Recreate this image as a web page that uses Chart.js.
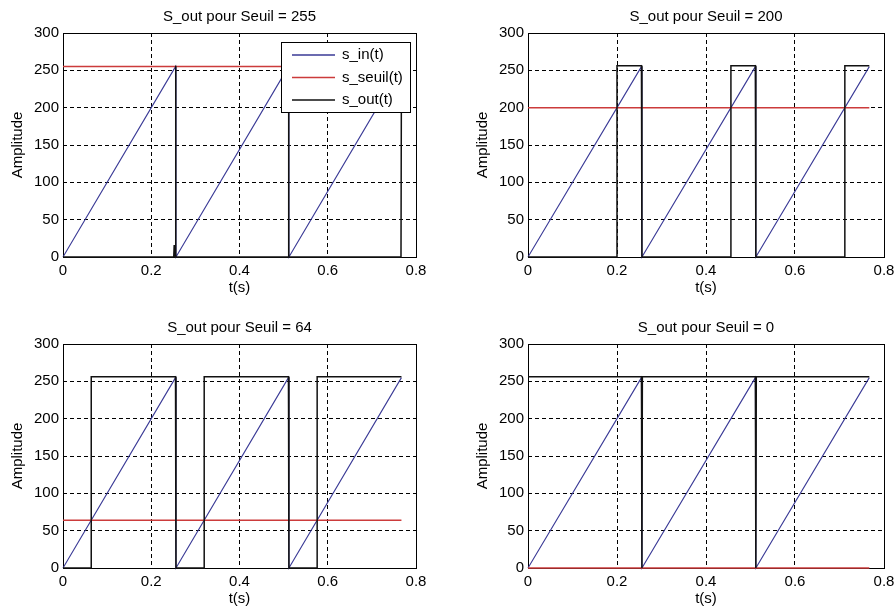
<!DOCTYPE html>
<html>
<head>
<meta charset="utf-8">
<script src="https://cdn.jsdelivr.net/npm/chart.js@4.4.0/dist/chart.umd.min.js"></script>
<style>
  html, body { margin: 0; padding: 0; background: #fff; overflow: hidden; }
  #figure { position: relative; width: 894px; height: 612px; overflow: hidden; background: #fff; }
  .cell { position: absolute; width: 447px; height: 306px; }
</style>
</head>
<body>
<div id="figure">
  <div class="cell" style="left:0px;top:0px"><canvas id="plot255"></canvas></div>
  <div class="cell" style="left:465px;top:0px;width:450px"><canvas id="plot200"></canvas></div>
  <div class="cell" style="left:0px;top:311px"><canvas id="plot64"></canvas></div>
  <div class="cell" style="left:465px;top:311px;width:450px"><canvas id="plot0"></canvas></div>
</div>
<script>
// thresholds, one per subplot
const seuils = [255, 200, 64, 0];

// sawtooth input, same for every subplot
const t_in = [0, 0.255, 0.256, 0.511, 0.512, 0.767];
const s_in = [0, 255, 0, 255, 0, 255];

// threshold line spans the whole signal
const t_seuil = [0, 0.767];

// output signals
const t_out_255 = [0, 0.251, 0.252, 0.253, 0.254, 0.255, 0.256, 0.510, 0.511, 0.512, 0.766, 0.767];
const s_out_255 = [0, 0, 16, 0, 0, 256, 0, 0, 256, 0, 0, 256];

const t_out_200 = [0, 0.2, 0.2, 0.255, 0.256, 0.456, 0.456, 0.511, 0.512, 0.712, 0.712, 0.767];
const s_out_200 = [0, 0, 256, 256, 0, 0, 256, 256, 0, 0, 256, 256];

const t_out_64 = [0, 0.064, 0.064, 0.255, 0.256, 0.32, 0.32, 0.511, 0.512, 0.576, 0.576, 0.767];
const s_out_64 = [0, 0, 256, 256, 0, 0, 256, 256, 0, 0, 256, 256];

const t_out_0 = [0, 0.255, 0.256, 0.257, 0.511, 0.512, 0.513, 0.767];
const s_out_0 = [256, 256, 0, 256, 256, 0, 256, 256];

// axes
const x_range = [0, 0.8];
const x_step = 0.2;
const y_range = [0, 300];
const y_step = 50;

const colour_in = "#3a3a96";
const colour_seuil = "#cc3b3b";
const colour_out = "#111111";

Chart.defaults.font.family = "'Liberation Sans', Arial, Helvetica, sans-serif";
Chart.defaults.font.size = 15;
Chart.defaults.color = "#000";

function toPoints(xs, ys) {
  return xs.map((x, i) => ({ x: x, y: ys[i] }));
}

// matlab style title, centred on the axes box
const subplotTitle = {
  id: "subplotTitle",
  afterDraw(chart, args, opts) {
    const { ctx, chartArea } = chart;
    ctx.save();
    ctx.font = "15px " + Chart.defaults.font.family;
    ctx.fillStyle = "#000";
    ctx.textAlign = "center";
    ctx.textBaseline = "middle";
    ctx.fillText(opts.text, (chartArea.left + chartArea.right) / 2, chartArea.top - 16);
    ctx.restore();
  },
};

// solid box round the plot area
const axesBox = {
  id: "axesBox",
  beforeDatasetsDraw(chart) {
    const { ctx, chartArea } = chart;
    ctx.save();
    ctx.strokeStyle = "#000";
    ctx.lineWidth = 1;
    ctx.strokeRect(chartArea.left + 0.5, chartArea.top + 0.5,
      chartArea.right - chartArea.left, chartArea.bottom - chartArea.top);
    ctx.restore();
  },
};

// legend drawn inside the top right corner, like matlab 'legend'
const insideLegend = {
  id: "insideLegend",
  afterDraw(chart, args, opts) {
    if (!opts.display) return;
    const { ctx, chartArea } = chart;
    const left = chartArea.right - 135;
    const top = chartArea.top + 9;
    ctx.save();
    ctx.fillStyle = "#fff";
    ctx.fillRect(left, top, 129, 70);
    ctx.strokeStyle = "#000";
    ctx.lineWidth = 1;
    ctx.strokeRect(left + 0.5, top + 0.5, 129, 70);
    ctx.font = "15px " + Chart.defaults.font.family;
    ctx.textBaseline = "middle";
    ctx.textAlign = "left";
    chart.data.datasets.forEach((ds, i) => {
      const y = top + 13 + i * 22.5;
      ctx.strokeStyle = ds.borderColor;
      ctx.lineWidth = 1.6;
      ctx.beginPath();
      ctx.moveTo(left + 11, y);
      ctx.lineTo(left + 54, y);
      ctx.stroke();
      ctx.fillStyle = "#000";
      ctx.fillText(ds.label, left + 61, y);
    });
    ctx.restore();
  },
};

function plot(canvasname, seuil, t_out, s_out, show_legend) {
  const data = {
    datasets: [
      {
        label: "s_in(t)",
        data: toPoints(t_in, s_in),
        borderColor: colour_in,
        borderWidth: 1.1,
        order: 2,
      },
      {
        label: "s_seuil(t)",
        data: toPoints(t_seuil, [seuil, seuil]),
        borderColor: colour_seuil,
        borderWidth: 1.5,
        order: 1,
      },
      {
        label: "s_out(t)",
        data: toPoints(t_out, s_out),
        borderColor: colour_out,
        borderWidth: 1.5,
        order: 0,
      },
    ],
  };
  data.datasets.forEach((d) => {
    d.showLine = true;
    d.pointRadius = 0;
    d.fill = false;
    d.clip = false;
  });

  const gridOpts = { color: "#000", lineWidth: 1, drawTicks: false };

  const config = {
    type: "scatter",
    data: data,
    options: {
      responsive: true,
      maintainAspectRatio: false,
      animation: false,
      events: [],
      layout: { padding: { top: 33, right: 31, left: 0, bottom: 0 } },
      plugins: {
        legend: { display: false },
        tooltip: { enabled: false },
        subplotTitle: { text: "S_out pour Seuil = " + seuil },
        insideLegend: { display: show_legend },
      },
      scales: {
        x: {
          type: "linear",
          min: x_range[0],
          max: x_range[1],
          ticks: { stepSize: x_step, padding: 5, maxRotation: 0 },
          grid: gridOpts,
          border: { display: false, dash: [4, 3] },
          title: { display: true, text: "t(s)", padding: { top: 0, bottom: 9 } },
          afterFit: (scale) => { scale.height = 49; },
        },
        y: {
          type: "linear",
          min: y_range[0],
          max: y_range[1],
          ticks: { stepSize: y_step, padding: 4 },
          grid: gridOpts,
          border: { display: false, dash: [4, 3] },
          title: { display: true, text: "Amplitude", padding: { top: 8.5, bottom: 0 } },
          afterFit: (scale) => { scale.width = 63; },
        },
      },
    },
    plugins: [axesBox, subplotTitle, insideLegend],
  };
  const ctx = document.getElementById(canvasname);
  return new Chart(ctx, config);
}

function create_charts() {
  plot("plot255", seuils[0], t_out_255, s_out_255, true);
  plot("plot200", seuils[1], t_out_200, s_out_200, false);
  plot("plot64", seuils[2], t_out_64, s_out_64, false);
  plot("plot0", seuils[3], t_out_0, s_out_0, false);
}

create_charts();
</script>
</body>
</html>
